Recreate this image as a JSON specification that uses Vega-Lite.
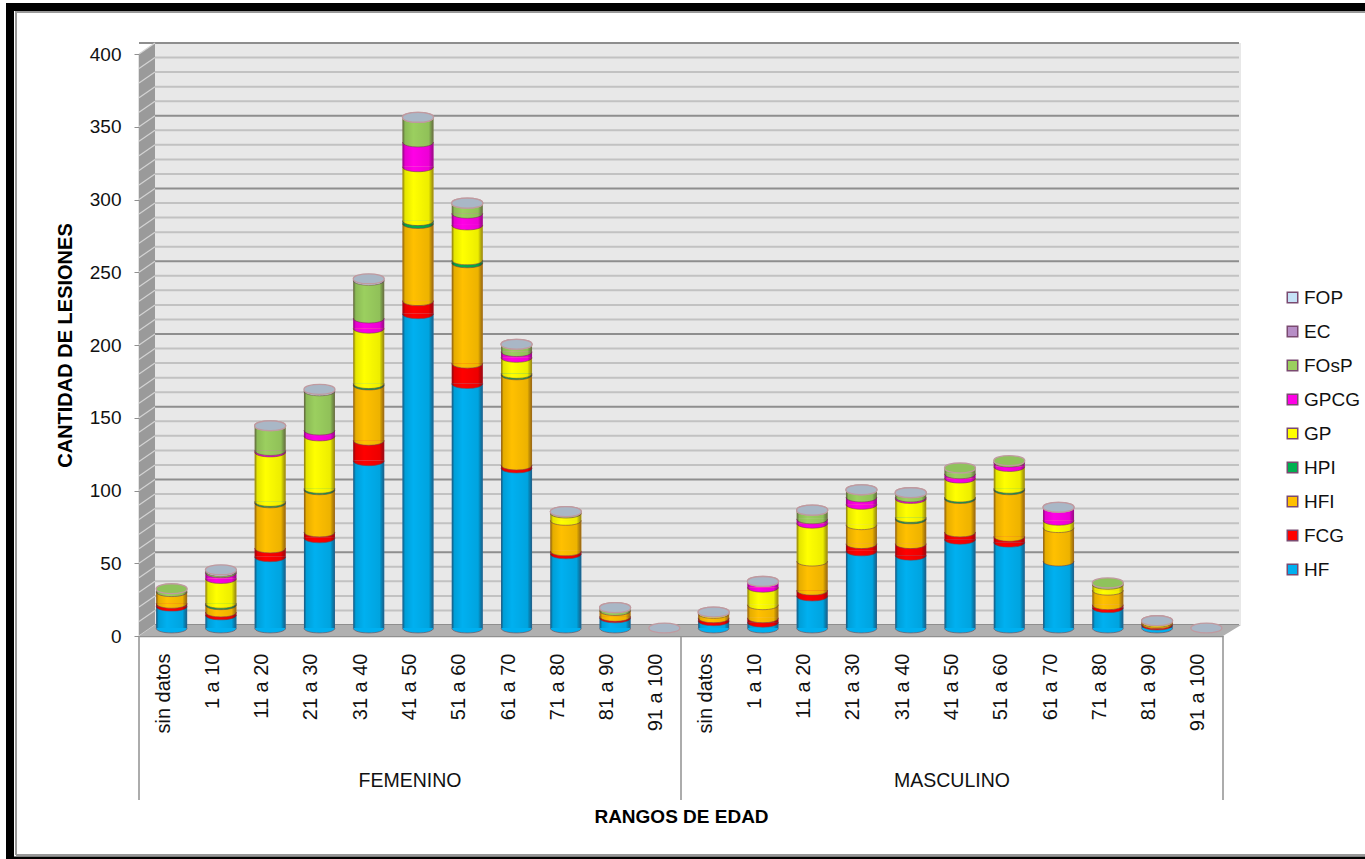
{"$schema":"https://vega.github.io/schema/vega-lite/v6.json","width":1084,"height":582,"autosize":{"type":"none"},"padding":{"left":139,"top":54,"right":142,"bottom":223},"background":"#ffffff","config":{"view":{"stroke":null},"font":"Liberation Sans"},
"datasets":{"anchor":[{"k":"F|sin datos","y":0}],
"grid":[{"y":0,"m":1},{"y":10,"m":0},{"y":20,"m":0},{"y":30,"m":0},{"y":40,"m":0},{"y":50,"m":1},{"y":60,"m":0},{"y":70,"m":0},{"y":80,"m":0},{"y":90,"m":0},{"y":100,"m":1},{"y":110,"m":0},{"y":120,"m":0},{"y":130,"m":0},{"y":140,"m":0},{"y":150,"m":1},{"y":160,"m":0},{"y":170,"m":0},{"y":180,"m":0},{"y":190,"m":0},{"y":200,"m":1},{"y":210,"m":0},{"y":220,"m":0},{"y":230,"m":0},{"y":240,"m":0},{"y":250,"m":1},{"y":260,"m":0},{"y":270,"m":0},{"y":280,"m":0},{"y":290,"m":0},{"y":300,"m":1},{"y":310,"m":0},{"y":320,"m":0},{"y":330,"m":0},{"y":340,"m":0},{"y":350,"m":1},{"y":360,"m":0},{"y":370,"m":0},{"y":380,"m":0},{"y":390,"m":0},{"y":400,"m":1}],
"rows":[
{"k":"F|sin datos","s":"HF","o":1,"v":15},{"k":"F|sin datos","s":"FCG","o":2,"v":2},{"k":"F|sin datos","s":"HFI","o":3,"v":8},{"k":"F|sin datos","s":"FOsP","o":7,"v":2},
{"k":"F|1 a 10","s":"HF","o":1,"v":9},{"k":"F|1 a 10","s":"FCG","o":2,"v":2},{"k":"F|1 a 10","s":"HFI","o":3,"v":5},{"k":"F|1 a 10","s":"HPI","o":4,"v":1},{"k":"F|1 a 10","s":"GP","o":5,"v":17},{"k":"F|1 a 10","s":"GPCG","o":6,"v":4},{"k":"F|1 a 10","s":"FOsP","o":7,"v":1},{"k":"F|1 a 10","s":"FOP","o":9,"v":1},
{"k":"F|11 a 20","s":"HF","o":1,"v":49},{"k":"F|11 a 20","s":"FCG","o":2,"v":6},{"k":"F|11 a 20","s":"HFI","o":3,"v":31},{"k":"F|11 a 20","s":"HPI","o":4,"v":1},{"k":"F|11 a 20","s":"GP","o":5,"v":34},{"k":"F|11 a 20","s":"GPCG","o":6,"v":1},{"k":"F|11 a 20","s":"FOsP","o":7,"v":17},{"k":"F|11 a 20","s":"FOP","o":9,"v":0},
{"k":"F|21 a 30","s":"HF","o":1,"v":62},{"k":"F|21 a 30","s":"FCG","o":2,"v":4},{"k":"F|21 a 30","s":"HFI","o":3,"v":29},{"k":"F|21 a 30","s":"HPI","o":4,"v":1},{"k":"F|21 a 30","s":"GP","o":5,"v":36},{"k":"F|21 a 30","s":"GPCG","o":6,"v":4},{"k":"F|21 a 30","s":"FOsP","o":7,"v":27},{"k":"F|21 a 30","s":"FOP","o":9,"v":1},
{"k":"F|31 a 40","s":"HF","o":1,"v":115},{"k":"F|31 a 40","s":"FCG","o":2,"v":14},{"k":"F|31 a 40","s":"HFI","o":3,"v":38},{"k":"F|31 a 40","s":"HPI","o":4,"v":1},{"k":"F|31 a 40","s":"GP","o":5,"v":38},{"k":"F|31 a 40","s":"GPCG","o":6,"v":7},{"k":"F|31 a 40","s":"FOsP","o":7,"v":26},{"k":"F|31 a 40","s":"FOP","o":9,"v":1},
{"k":"F|41 a 50","s":"HF","o":1,"v":216},{"k":"F|41 a 50","s":"FCG","o":2,"v":9},{"k":"F|41 a 50","s":"HFI","o":3,"v":53},{"k":"F|41 a 50","s":"HPI","o":4,"v":2},{"k":"F|41 a 50","s":"GP","o":5,"v":37},{"k":"F|41 a 50","s":"GPCG","o":6,"v":17},{"k":"F|41 a 50","s":"FOsP","o":7,"v":17},{"k":"F|41 a 50","s":"FOP","o":9,"v":0},
{"k":"F|51 a 60","s":"HF","o":1,"v":168},{"k":"F|51 a 60","s":"FCG","o":2,"v":14},{"k":"F|51 a 60","s":"HFI","o":3,"v":69},{"k":"F|51 a 60","s":"HPI","o":4,"v":2},{"k":"F|51 a 60","s":"GP","o":5,"v":24},{"k":"F|51 a 60","s":"GPCG","o":6,"v":8},{"k":"F|51 a 60","s":"FOsP","o":7,"v":7},{"k":"F|51 a 60","s":"FOP","o":9,"v":0},
{"k":"F|61 a 70","s":"HF","o":1,"v":110},{"k":"F|61 a 70","s":"FCG","o":2,"v":2},{"k":"F|61 a 70","s":"HFI","o":3,"v":62},{"k":"F|61 a 70","s":"HPI","o":4,"v":1},{"k":"F|61 a 70","s":"GP","o":5,"v":11},{"k":"F|61 a 70","s":"GPCG","o":6,"v":4},{"k":"F|61 a 70","s":"FOsP","o":7,"v":5},{"k":"F|61 a 70","s":"FOP","o":9,"v":0},
{"k":"F|71 a 80","s":"HF","o":1,"v":51},{"k":"F|71 a 80","s":"FCG","o":2,"v":2},{"k":"F|71 a 80","s":"HFI","o":3,"v":21},{"k":"F|71 a 80","s":"GP","o":5,"v":5},{"k":"F|71 a 80","s":"FOsP","o":7,"v":1},{"k":"F|71 a 80","s":"FOP","o":9,"v":0},
{"k":"F|81 a 90","s":"HF","o":1,"v":7},{"k":"F|81 a 90","s":"FCG","o":2,"v":1},{"k":"F|81 a 90","s":"HFI","o":3,"v":4},{"k":"F|81 a 90","s":"FOsP","o":7,"v":2},{"k":"F|81 a 90","s":"FOP","o":9,"v":0},
{"k":"F|91 a 100","s":"FOP","o":9,"v":0},
{"k":"M|sin datos","s":"HF","o":1,"v":5},{"k":"M|sin datos","s":"FCG","o":2,"v":2},{"k":"M|sin datos","s":"HFI","o":3,"v":3},{"k":"M|sin datos","s":"GP","o":5,"v":1},{"k":"M|sin datos","s":"FOP","o":9,"v":0},
{"k":"M|1 a 10","s":"HF","o":1,"v":4},{"k":"M|1 a 10","s":"FCG","o":2,"v":3},{"k":"M|1 a 10","s":"HFI","o":3,"v":9},{"k":"M|1 a 10","s":"GP","o":5,"v":12},{"k":"M|1 a 10","s":"GPCG","o":6,"v":4},{"k":"M|1 a 10","s":"FOP","o":9,"v":0},
{"k":"M|11 a 20","s":"HF","o":1,"v":22},{"k":"M|11 a 20","s":"FCG","o":2,"v":4},{"k":"M|11 a 20","s":"HFI","o":3,"v":20},{"k":"M|11 a 20","s":"GP","o":5,"v":26},{"k":"M|11 a 20","s":"GPCG","o":6,"v":3},{"k":"M|11 a 20","s":"FOsP","o":7,"v":6},{"k":"M|11 a 20","s":"FOP","o":9,"v":0},
{"k":"M|21 a 30","s":"HF","o":1,"v":53},{"k":"M|21 a 30","s":"FCG","o":2,"v":5},{"k":"M|21 a 30","s":"HFI","o":3,"v":13},{"k":"M|21 a 30","s":"GP","o":5,"v":14},{"k":"M|21 a 30","s":"GPCG","o":6,"v":5},{"k":"M|21 a 30","s":"FOsP","o":7,"v":5},{"k":"M|21 a 30","s":"FOP","o":9,"v":0},
{"k":"M|31 a 40","s":"HF","o":1,"v":50},{"k":"M|31 a 40","s":"FCG","o":2,"v":8},{"k":"M|31 a 40","s":"HFI","o":3,"v":17},{"k":"M|31 a 40","s":"HPI","o":4,"v":1},{"k":"M|31 a 40","s":"GP","o":5,"v":13},{"k":"M|31 a 40","s":"GPCG","o":6,"v":1},{"k":"M|31 a 40","s":"FOsP","o":7,"v":3},{"k":"M|31 a 40","s":"FOP","o":9,"v":0},
{"k":"M|41 a 50","s":"HF","o":1,"v":61},{"k":"M|41 a 50","s":"FCG","o":2,"v":5},{"k":"M|41 a 50","s":"HFI","o":3,"v":23},{"k":"M|41 a 50","s":"HPI","o":4,"v":1},{"k":"M|41 a 50","s":"GP","o":5,"v":13},{"k":"M|41 a 50","s":"GPCG","o":6,"v":3},{"k":"M|41 a 50","s":"FOsP","o":7,"v":4},
{"k":"M|51 a 60","s":"HF","o":1,"v":59},{"k":"M|51 a 60","s":"FCG","o":2,"v":4},{"k":"M|51 a 60","s":"HFI","o":3,"v":32},{"k":"M|51 a 60","s":"HPI","o":4,"v":1},{"k":"M|51 a 60","s":"GP","o":5,"v":15},{"k":"M|51 a 60","s":"GPCG","o":6,"v":3},{"k":"M|51 a 60","s":"FOsP","o":7,"v":1},
{"k":"M|61 a 70","s":"HF","o":1,"v":46},{"k":"M|61 a 70","s":"HFI","o":3,"v":23},{"k":"M|61 a 70","s":"GP","o":5,"v":5},{"k":"M|61 a 70","s":"GPCG","o":6,"v":9},{"k":"M|61 a 70","s":"FOP","o":9,"v":0},
{"k":"M|71 a 80","s":"HF","o":1,"v":14},{"k":"M|71 a 80","s":"FCG","o":2,"v":2},{"k":"M|71 a 80","s":"HFI","o":3,"v":10},{"k":"M|71 a 80","s":"GP","o":5,"v":4},{"k":"M|71 a 80","s":"FOsP","o":7,"v":1},
{"k":"M|81 a 90","s":"HF","o":1,"v":2},{"k":"M|81 a 90","s":"FCG","o":2,"v":1},{"k":"M|81 a 90","s":"HFI","o":3,"v":1},{"k":"M|81 a 90","s":"GP","o":5,"v":1},{"k":"M|81 a 90","s":"FOP","o":9,"v":0},
{"k":"M|91 a 100","s":"FOP","o":9,"v":0}
]},
"layer":[
{"data":{"name":"anchor"},"mark":{"type":"point","size":4,"opacity":1,"filled":true,"fill":"#e8e8e8","stroke":null,"shape":"M16,-11 L1102,-11 L1102,-593 L16,-593 Z"},
"encoding":{"x":{"field":"k","type":"nominal","bandPosition":0,"sort":null,
"scale":{"type":"band","paddingInner":0,"paddingOuter":0,"domain":["F|sin datos","F|1 a 10","F|11 a 20","F|21 a 30","F|31 a 40","F|41 a 50","F|51 a 60","F|61 a 70","F|71 a 80","F|81 a 90","F|91 a 100","M|sin datos","M|1 a 10","M|11 a 20","M|21 a 30","M|31 a 40","M|41 a 50","M|51 a 60","M|61 a 70","M|71 a 80","M|81 a 90","M|91 a 100"]},
"axis":{"title":"RANGOS DE EDAD","titleFontSize":19,"titleFont":"Liberation Sans","titleFontWeight":"bold","titleColor":"#000","titleY":171,"labelExpr":"slice(datum.label,2)","labelAngle":-90,"labelFontSize":20,"labelFont":"Liberation Sans","labelColor":"#111","labelPadding":17,"labelAlign":"right","labelBaseline":"middle","ticks":false,"domainColor":"#909090","domainWidth":1.5,"grid":false,"labelOverlap":false}},
"y":{"field":"y","type":"quantitative","scale":{"domain":[0,400],"nice":false},
"axis":{"title":"CANTIDAD DE LESIONES","titleFontSize":20,"titleFont":"Liberation Sans","titleFontWeight":"bold","titleColor":"#000","titlePadding":14,"values":[0,50,100,150,200,250,300,350,400],"labelFontSize":19,"labelFont":"Liberation Sans","labelColor":"#111","labelPadding":13,"tickColor":"#909090","tickSize":5,"domainColor":"#909090","domainWidth":1.5,"grid":false}}}},
{"data":{"name":"grid"},"mark":{"type":"rule","xOffset":16,"x2Offset":18,"yOffset":-11},"encoding":{"y":{"field":"y","type":"quantitative"},"color":{"condition":{"test":"datum.m==1","value":"#8e8e8e"},"value":"#c2c2c2"},"strokeWidth":{"value":2}}},
{"data":{"name":"anchor"},"mark":{"type":"point","size":4,"opacity":1,"filled":true,"fill":"#9a9a9a","stroke":null,"shape":"M0,0 L16,-11 L16,-593 L0,-582 Z"},"encoding":{"x":{"field":"k","type":"nominal","bandPosition":0},"y":{"field":"y","type":"quantitative"}}},
{"data":{"name":"grid"},"mark":{"type":"point","size":4,"opacity":1,"filled":false,"fill":null,"stroke":"#d4d4d4","strokeWidth":1.2,"shape":"M0,0 L16,-11"},"encoding":{"x":{"datum":"F|sin datos","type":"nominal","bandPosition":0},"y":{"field":"y","type":"quantitative"}}},
{"data":{"name":"anchor"},"mark":{"type":"point","size":4,"opacity":1,"filled":true,"fill":"#b0b0b0","stroke":null,"shape":"M0,0 L16,-11 L1102,-11 L1084,0 Z"},"encoding":{"x":{"field":"k","type":"nominal","bandPosition":0},"y":{"field":"y","type":"quantitative"}}},
{"data":{"name":"anchor"},"mark":{"type":"point","size":4,"opacity":1,"filled":false,"fill":null,"stroke":"#000000","strokeWidth":8,"shape":"M-129,226 L-129,-629 L1300,-629"},"encoding":{"x":{"field":"k","type":"nominal","bandPosition":0},"y":{"field":"y","type":"quantitative"}}},
{"data":{"name":"anchor"},"mark":{"type":"point","size":4,"opacity":1,"filled":false,"fill":null,"stroke":"#000000","strokeWidth":3,"shape":"M-129,222 L1300,222"},"encoding":{"x":{"field":"k","type":"nominal","bandPosition":0},"y":{"field":"y","type":"quantitative"}}},
{"data":{"name":"anchor"},"mark":{"type":"point","size":4,"opacity":1,"filled":false,"fill":null,"stroke":"#999999","strokeWidth":2,"shape":"M-123,219 L-123,-624 L1300,-624 M-123,219 L1300,219"},"encoding":{"x":{"field":"k","type":"nominal","bandPosition":0},"y":{"field":"y","type":"quantitative"}}},
{"data":{"values":[{"k":"F|sin datos","y":0},{"k":"M|sin datos","y":0}]},"mark":{"type":"point","size":4,"opacity":1,"filled":false,"fill":null,"stroke":"#909090","strokeWidth":1.5,"shape":"M0,0 L0,164"},"encoding":{"x":{"field":"k","type":"nominal","bandPosition":0},"y":{"field":"y","type":"quantitative"}}},
{"data":{"values":[{"k":"M|91 a 100","y":0}]},"mark":{"type":"point","size":4,"opacity":1,"filled":false,"fill":null,"stroke":"#909090","strokeWidth":1.5,"shape":"M0,0 L0,164"},"encoding":{"x":{"field":"k","type":"nominal","bandPosition":1},"y":{"field":"y","type":"quantitative"}}},
{"data":{"values":[{"k":"F|41 a 50","y":0,"t":"FEMENINO"},{"k":"M|41 a 50","y":0,"t":"MASCULINO"}]},"mark":{"type":"text","yOffset":145,"fontSize":19.5,"font":"Liberation Sans","color":"#111"},"encoding":{"x":{"field":"k","type":"nominal","bandPosition":0.5},"y":{"field":"y","type":"quantitative"},"text":{"field":"t"}}},
{"data":{"name":"rows"},"transform":[{"stack":"v","groupby":["k"],"sort":[{"field":"o","order":"ascending"}],"as":["v0","v1"]},{"joinaggregate":[{"op":"max","field":"v1","as":"top"}],"groupby":["k"]}],
"layer":[
{"transform":[{"filter":"datum.v>0"}],"mark":{"type":"bar","size":31,"xOffset":8,"x2Offset":8,"yOffset":-8,"y2Offset":-8},
"encoding":{"x":{"field":"k","type":"nominal"},"y":{"field":"v0","type":"quantitative"},"y2":{"field":"v1"},
"color":{"field":"s","type":"nominal","scale":{"domain":["FOP","EC","FOsP","GPCG","GP","HPI","HFI","FCG","HF"],"range":["#c6e2f7","#b78ec6","#9bcf5f","#ff00e6","#ffff00","#00b050","#ffc000","#ff0000","#00b0f0"]},
"legend":{"title":null,"orient":"none","legendX":1144,"legendY":234,"symbolType":"square","symbolSize":110,"symbolStrokeColor":"#7a4a70","symbolStrokeWidth":1.5,"labelFontSize":19,"labelFont":"Liberation Sans","labelColor":"#111","labelOffset":2,"rowPadding":14}}}},
{"transform":[{"filter":"datum.v>0"}],"mark":{"type":"point","size":4,"opacity":1,"filled":true,"xOffset":8,"yOffset":-8,"stroke":"#7a4a50","strokeWidth":1,"strokeOpacity":0.6,"shape":"M-15.5,0 C-15.5,6.6 15.5,6.6 15.5,0"},
"encoding":{"x":{"field":"k","type":"nominal"},"y":{"field":"v0","type":"quantitative"},"color":{"field":"s","type":"nominal","legend":null}}},
{"transform":[{"aggregate":[{"op":"max","field":"top","as":"t"}],"groupby":["k"]},{"filter":"datum.t>0"}],
"mark":{"type":"bar","size":31,"xOffset":8,"x2Offset":8,"yOffset":-8,"y2Offset":-8,"fill":{"gradient":"linear","x1":0,"y1":0,"x2":1,"y2":0,"stops":[{"offset":0,"color":"rgba(70,25,50,0.6)"},{"offset":0.08,"color":"rgba(0,0,0,0.1)"},{"offset":0.35,"color":"rgba(0,0,0,0)"},{"offset":0.85,"color":"rgba(0,0,0,0.07)"},{"offset":1,"color":"rgba(70,25,50,0.55)"}]}},
"encoding":{"x":{"field":"k","type":"nominal"},"y":{"field":"t","type":"quantitative"}}},
{"transform":[{"filter":"datum.v1==datum.top"}],"mark":{"type":"point","size":4,"opacity":1,"filled":true,"xOffset":8,"yOffset":-8,"stroke":"#c09aa0","strokeWidth":1.3,"shape":"M-15.5,0 C-15.5,-6.6 15.5,-6.6 15.5,0 C15.5,6.6 -15.5,6.6 -15.5,0 Z"},
"encoding":{"x":{"field":"k","type":"nominal"},"y":{"field":"v1","type":"quantitative"},"fill":{"condition":{"test":"datum.s=='FOP'","value":"#a9b7c6"},"value":"#8fc25c"}}}
]}
]}
